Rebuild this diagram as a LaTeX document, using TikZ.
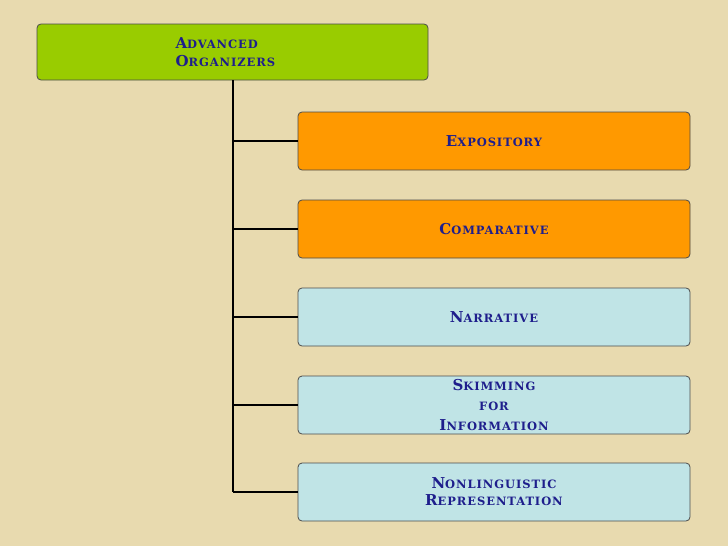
\documentclass[tikz,border=0pt]{standalone}
\usepackage{fontspec}
\setmainfont{DejaVu Serif}
\newcommand{\sca}[2]{{\fontsize{15}{17}\selectfont #1}{\fontsize{11.5}{17}\selectfont #2}}
\begin{document}
\begin{tikzpicture}[x=1pt,y=-1pt,
  box/.style={draw=black!70,line width=0.8pt,rounded corners=4pt,minimum width=392pt,minimum height=58pt,
     font=\bfseries\addfontfeatures{LetterSpace=8}\fontsize{11.5}{17}\selectfont,text=tc,align=center},
  org/.style={box,fill=orgc},
  lb/.style={box,fill=lbc},
  conn/.style={line width=1.6pt,black}]
\definecolor{bg}{RGB}{232,218,175}
\definecolor{tc}{RGB}{30,30,140}
\definecolor{orgc}{RGB}{255,153,0}
\definecolor{lbc}{RGB}{192,228,230}
\fill[bg] (0,0) rectangle (728,546);
\node[box,fill={rgb,255:red,153;green,204;blue,0},minimum width=391pt,minimum height=56pt] (top) at (232.5,52) {};
\node[font=\bfseries\addfontfeatures{LetterSpace=8}\fontsize{11.5}{18}\selectfont,text=tc,align=left,anchor=west] (toptext) at (172,52) {\sca{A}{DVANCED}\\\sca{O}{RGANIZERS}};
\node[org] (e) at (494,141) {\sca{E}{XPOSITORY}};
\node[org] (c) at (494,229) {\sca{C}{OMPARATIVE}};
\node[lb] (n) at (494,317) {\sca{N}{ARRATIVE}};
\node[lb] (s) at (494,405) {\sca{S}{KIMMING}\\[3pt]{\fontsize{11.5}{17}\selectfont FOR}\\[3pt]\sca{I}{NFORMATION}};
\node[lb] (nl) at (494,492) {\sca{N}{ONLINGUISTIC}\\\sca{R}{EPRESENTATION}};
\coordinate (t0) at (233,80);
\coordinate (t5) at (233,492);
\draw[conn] (t0) -- (t5);
\foreach \b in {e,c,n,s,nl} \draw[conn] (t0 |- \b.west) -- (\b.west);
\end{tikzpicture}
\end{document}
